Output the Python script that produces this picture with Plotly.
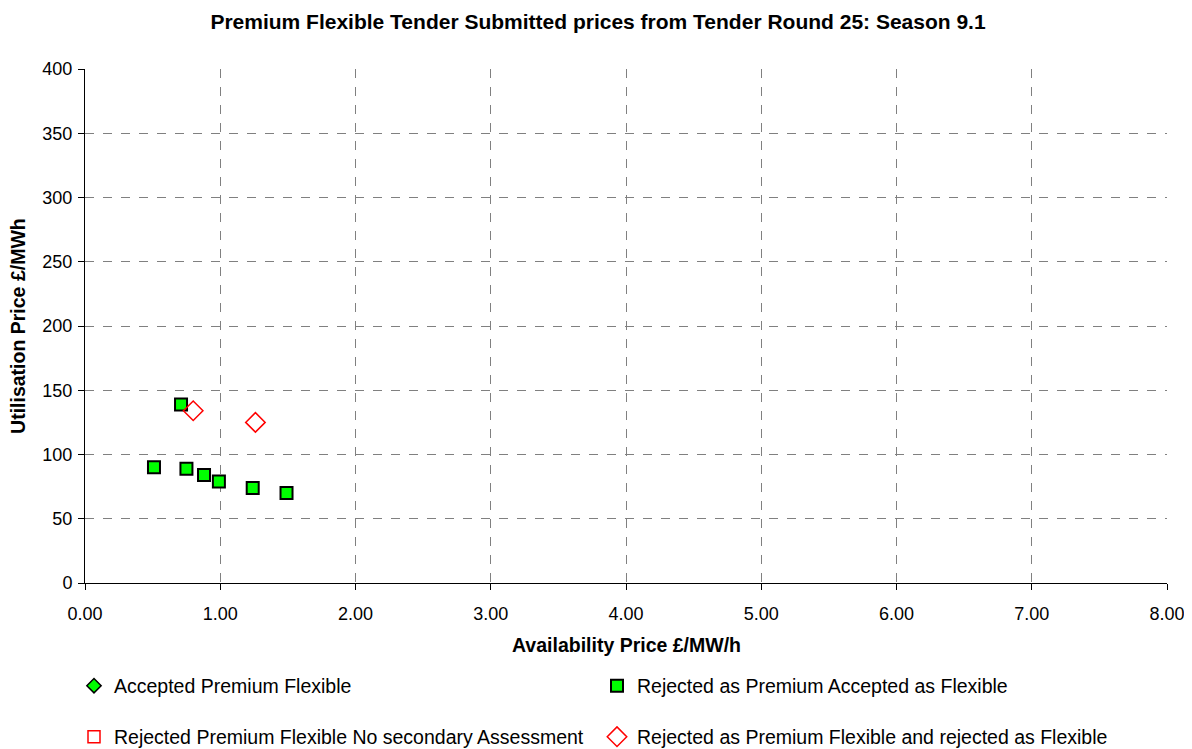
import plotly.graph_objects as go

# Rejected as Premium, Accepted as Flexible (green squares)
flex_avail = [0.51, 0.71, 0.75, 0.88, 0.99, 1.24, 1.49]
flex_util = [90, 139, 89, 84, 79, 74, 70]

# Rejected as Premium Flexible and rejected as Flexible (red open diamonds)
rej_avail = [0.80, 1.26]
rej_util = [134, 125]

# no data in this round for these two
acc_avail = []
acc_util = []
nosec_avail = []
nosec_util = []

font = "Liberation Sans, Arial, sans-serif"

fig = go.Figure()

fig.add_trace(go.Scatter(
    x=acc_avail or [None], y=acc_util or [None], mode="markers",
    name="Accepted Premium Flexible", legend="legend",
    marker=dict(symbol="diamond", size=11, color="#00ff00",
                line=dict(color="black", width=1.5))))
fig.add_trace(go.Scatter(
    x=flex_avail, y=flex_util, mode="markers",
    name="Rejected as Premium Accepted as Flexible", legend="legend2",
    marker=dict(symbol="square", size=12, color="#00ff00",
                line=dict(color="black", width=2))))
fig.add_trace(go.Scatter(
    x=nosec_avail or [None], y=nosec_util or [None], mode="markers",
    name="Rejected Premium Flexible No secondary Assessment", legend="legend3",
    marker=dict(symbol="square-open", size=12, color="#ff0000",
                line=dict(width=1.5))))
fig.add_trace(go.Scatter(
    x=rej_avail, y=rej_util, mode="markers",
    name="Rejected as Premium Flexible and rejected as Flexible", legend="legend4",
    marker=dict(symbol="diamond-open", size=15, color="#ff0000",
                line=dict(width=1.5))))

leg = dict(xref="container", yref="container", xanchor="left", yanchor="middle",
           bgcolor="rgba(0,0,0,0)", font=dict(family=font, size=19.5, color="black"),
           itemwidth=30)

# page body has an 8px margin, figure coords are shifted accordingly
fig.update_layout(
    width=1192, height=749,
    margin=dict(l=77, r=33, t=61, b=174, autoexpand=False),
    paper_bgcolor="white", plot_bgcolor="white",
    font=dict(family=font, size=18, color="black"),
    title=dict(text="<b>Premium Flexible Tender Submitted prices from Tender Round 25: Season 9.1</b>",
               x=(598 - 8) / 1192, xanchor="center", y=1 - 14 / 749, yanchor="middle",
               font=dict(size=21)),
    showlegend=True,
    legend=dict(leg, x=66 / 1192, y=1 - 678 / 749),
    legend2=dict(leg, x=589 / 1192, y=1 - 678 / 749),
    legend3=dict(leg, x=66 / 1192, y=1 - 729 / 749),
    legend4=dict(leg, x=589 / 1192, y=1 - 729 / 749),
    annotations=[
        dict(text="<b>Availability Price £/MW/h</b>", xref="paper", yref="paper",
             x=0.5, y=-0.121, xanchor="center", yanchor="middle",
             showarrow=False, font=dict(size=19.5)),
        dict(text="<b>Utilisation Price £/MWh</b>", xref="paper", yref="paper",
             x=-0.062, y=0.5, xanchor="center", yanchor="middle", textangle=-90,
             showarrow=False, font=dict(size=19.5)),
    ],
)

fig.update_xaxes(
    range=[0, 8], dtick=1, tickformat=".2f", automargin=False,
    showline=True, linecolor="black", linewidth=1,
    ticks="outside", ticklen=6, tickcolor="black", ticklabelstandoff=8,
    showgrid=True, gridcolor="#808080", griddash="dash", gridwidth=1,
    zeroline=False,
)
fig.update_yaxes(
    range=[0, 400], dtick=50, automargin=False,
    showline=True, linecolor="black", linewidth=1,
    ticks="outside", ticklen=6, tickcolor="black", ticklabelstandoff=2,
    showgrid=True, gridcolor="#808080", griddash="dash", gridwidth=1,
    zeroline=False,
)

fig.write_html("out.html")
